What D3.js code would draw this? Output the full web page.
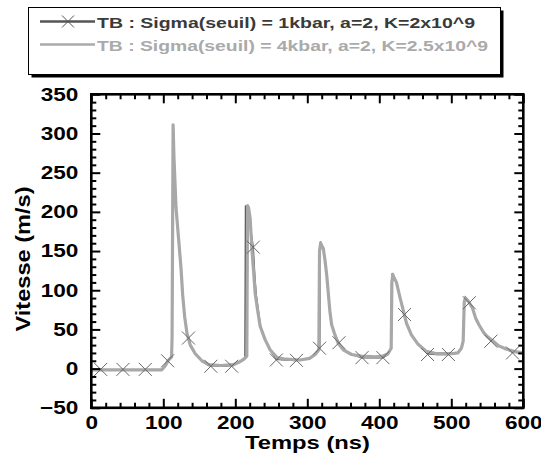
<!DOCTYPE html>
<html><head><meta charset="utf-8">
<script src="https://cdn.jsdelivr.net/npm/d3@7"></script>
<style>
html,body{margin:0;padding:0;background:#fff;}
svg{display:block;}
text{font-family:"Liberation Sans",Arial,sans-serif;font-weight:bold;}
</style></head>
<body><svg id="chart" width="541" height="459"></svg>
<script>
// ---- data ----
const legendLabels = [
  "TB : Sigma(seuil) = 1kbar, a=2, K=2x10^9",
  "TB : Sigma(seuil) = 4kbar, a=2, K=2.5x10^9"
];
const xLabel = "Temps (ns)";
const yLabel = "Vitesse (m/s)";
const xTicks = [0,100,200,300,400,500,600];
const yTicks = [-50,0,50,100,150,200,250,300,350];

// series 1 (dark, with X markers): [time ns, speed m/s]
const series1 = [[0,-1.5],[98,-1.5],[103,4],[106.5,10],[111.5,15],[112.2,40],[113.6,308],[114.8,268],[117.7,205],[121.4,164],[124.6,128],[126.9,94],[129.7,66],[132.9,45],[135,39],[137.5,30],[144.4,19],[153.6,10],[163,4],[180,3],[197,4],[205,8],[211,12],[213.5,14],[214.3,208],[216,203],[218.5,195],[221,180],[224.8,155],[227,118],[229,94],[232,73],[235,54],[241.4,37],[248.3,24],[257,12],[270,11],[285,10.5],[303,13],[311,18],[317.2,26],[317.8,150],[318.3,162],[320,158],[322.3,153],[324.6,138],[326.9,120],[329.2,96],[331.4,73],[333.8,56],[338.4,43],[344,33],[350,24],[361.5,18],[376,14],[395,14],[405,14],[412,18],[416.2,26],[417.2,112],[418.2,122],[420,118],[423.8,110],[428.4,92],[433.1,75],[435,69],[437.7,58],[444.6,43],[453.9,31],[467,19],[480,18],[496,18],[509,20],[514,26],[516.5,35],[518,86],[519.5,91],[522,88],[525,84],[529.5,77],[534,64],[539,55],[545,46],[550,41],[555,36],[566,29],[576,25],[585,21],[600,20]];
// marker positions of series 1
const markerT = [13,44,75,106,135,166,195,225,257,285,317,344,376,405,435,467,496,525,555,585];
const markerV = [-1,-1,-1,10,39,3,3,155,11,10.5,26,33,14,14,69,18,18,84,35,20];

// series 2 (light grey)
const series2 = [[0,-1.5],[98,-1.5],[103,4],[106.5,10],[111.5,15],[112.2,40],[113.6,311],[114.8,270],[117.7,205],[121.4,164],[124.6,128],[126.9,94],[129.7,66],[132.9,45],[137.5,30],[144.4,19],[153.6,10],[163,5],[180,4],[197,5],[205,8],[212,12],[216,16],[217,208],[218.5,205],[220.6,192],[223,153],[225.3,125],[227.6,96],[231.3,73],[234.5,54],[241.4,37],[248.3,24],[258,14],[270,12],[290,11],[303,13],[311,18],[316,24],[317,150],[318.5,160],[320,157],[322.3,153],[324.6,138],[326.9,120],[329.2,96],[331.4,73],[333.8,56],[338.4,43],[343,32],[350,24],[361.5,18],[375,16],[395,15],[405,16],[412,19],[416.5,26],[417.5,110],[418.7,120],[420,117],[423.8,110],[428.4,92],[433.1,75],[437.7,58],[444.6,43],[453.9,31],[465.4,22],[480,19],[500,19],[509,20],[514,26],[516.5,35],[518,85],[519.5,90],[522,88],[525,84],[529.5,77],[534,64],[539,55],[545,46],[550,41],[557,36],[566,29],[576,25],[587,22],[600,20]];

// ---- drawing ----
const svg = d3.select("#chart");
const x = d3.scaleLinear().domain([0,600]).range([91.3,523.3]);
const y = d3.scaleLinear().domain([-50,350]).range([407.8,94.3]);
const STRETCH = 1.22;
function stretch(sel, k){
  sel.each(function(){
    const w = this.getComputedTextLength();
    d3.select(this).attr("textLength", w*k).attr("lengthAdjust","spacingAndGlyphs");
  });
}

// legend
const lg = svg.append("g");
lg.append("rect").attr("x",31.5).attr("y",10.5).attr("width",472).attr("height",67).attr("fill","#000");
lg.append("rect").attr("x",28.5).attr("y",7.5).attr("width",472).attr("height",67).attr("fill","#fff").attr("stroke","#000").attr("stroke-width",1);
lg.append("line").attr("x1",40).attr("x2",95).attr("y1",21.5).attr("y2",21.5).attr("stroke","#555").attr("stroke-width",2.5);
lg.append("path").attr("d","M62,15.5L74,27.5M62,27.5L74,15.5").attr("stroke","#555").attr("stroke-width",1);
lg.append("line").attr("x1",40).attr("x2",95).attr("y1",44.5).attr("y2",44.5).attr("stroke","#aaa").attr("stroke-width",2.5);
lg.append("text").attr("x",97).attr("y",27.5).attr("font-size",15.5).attr("fill","#3a3a3a").text(legendLabels[0]).attr("textLength",378).attr("lengthAdjust","spacingAndGlyphs");
lg.append("text").attr("x",97).attr("y",51).attr("font-size",15.5).attr("fill","#aaa").text(legendLabels[1]).attr("textLength",391).attr("lengthAdjust","spacingAndGlyphs");

// clip
svg.append("clipPath").attr("id","clip").append("rect")
  .attr("x",x(0)).attr("y",y(350)).attr("width",x(600)-x(0)).attr("height",y(-50)-y(350));

const line = d3.line().x(d=>x(d[0])).y(d=>y(d[1]));
const plot = svg.append("g").attr("clip-path","url(#clip)");
plot.append("path").datum(series1).attr("d",line).attr("fill","none").attr("stroke","#555").attr("stroke-width",1.6);
plot.append("path").datum(series2).attr("d",line).attr("fill","none").attr("stroke","#a8a8a8").attr("stroke-width",3.2).attr("stroke-linejoin","round");
plot.selectAll("path.mk").data(markerT.map((t,i)=>[t,markerV[i]])).enter().append("path").attr("class","mk")
  .attr("d",d=>{const cx=x(d[0]),cy=y(d[1]),r=6.5;return `M${cx-r},${cy-r}L${cx+r},${cy+r}M${cx-r},${cy+r}L${cx+r},${cy-r}`;})
  .attr("stroke","#666").attr("stroke-width",1).attr("fill","none");

// axes (ticks inward on all sides)
const xMinor = d3.range(0,601,20).filter(v=>v%100!==0);
const yMinor = d3.range(-50,351,10).filter(v=>v%50!==0);
function styleAxis(g){ g.select(".domain").remove(); g.selectAll("line").attr("stroke","#000").attr("stroke-width",2); }

const gb = svg.append("g").attr("transform",`translate(0,${y(-50)})`)
  .call(d3.axisBottom(x).tickValues(xTicks).tickSize(-9).tickPadding(8).tickFormat(d3.format("d")));
styleAxis(gb);
gb.selectAll("text").attr("font-size",18.5).attr("fill","#000").call(stretch,STRETCH);
svg.append("g").attr("transform",`translate(0,${y(-50)})`).call(d3.axisBottom(x).tickValues(xMinor).tickSize(-5).tickFormat("")).call(styleAxis);
svg.append("g").attr("transform",`translate(0,${y(350)})`).call(d3.axisTop(x).tickValues(xTicks).tickSize(-9).tickFormat("")).call(styleAxis);
svg.append("g").attr("transform",`translate(0,${y(350)})`).call(d3.axisTop(x).tickValues(xMinor).tickSize(-5).tickFormat("")).call(styleAxis);

const gl = svg.append("g").attr("transform",`translate(${x(0)},0)`)
  .call(d3.axisLeft(y).tickValues(yTicks).tickSize(-9).tickPadding(13).tickFormat(d3.format("d")));
styleAxis(gl);
gl.selectAll("text").attr("font-size",18.5).attr("fill","#000").call(stretch,STRETCH);
svg.append("g").attr("transform",`translate(${x(0)},0)`).call(d3.axisLeft(y).tickValues(yMinor).tickSize(-5).tickFormat("")).call(styleAxis);
svg.append("g").attr("transform",`translate(${x(600)},0)`).call(d3.axisRight(y).tickValues(yTicks).tickSize(-9).tickFormat("")).call(styleAxis);
svg.append("g").attr("transform",`translate(${x(600)},0)`).call(d3.axisRight(y).tickValues(yMinor).tickSize(-5).tickFormat("")).call(styleAxis);

// frame
svg.append("rect").attr("x",x(0)).attr("y",y(350)).attr("width",x(600)-x(0)).attr("height",y(-50)-y(350))
  .attr("fill","none").attr("stroke","#000").attr("stroke-width",2.6);

// axis titles
svg.append("text").attr("x",307.5).attr("y",449).attr("text-anchor","middle").attr("font-size",18).attr("fill","#000")
  .text(xLabel).attr("textLength",125).attr("lengthAdjust","spacingAndGlyphs");
svg.append("text").attr("transform","translate(30,259) rotate(-90)").attr("text-anchor","middle").attr("font-size",21).attr("fill","#000")
  .text(yLabel).attr("textLength",145).attr("lengthAdjust","spacingAndGlyphs");
</script></body></html>
